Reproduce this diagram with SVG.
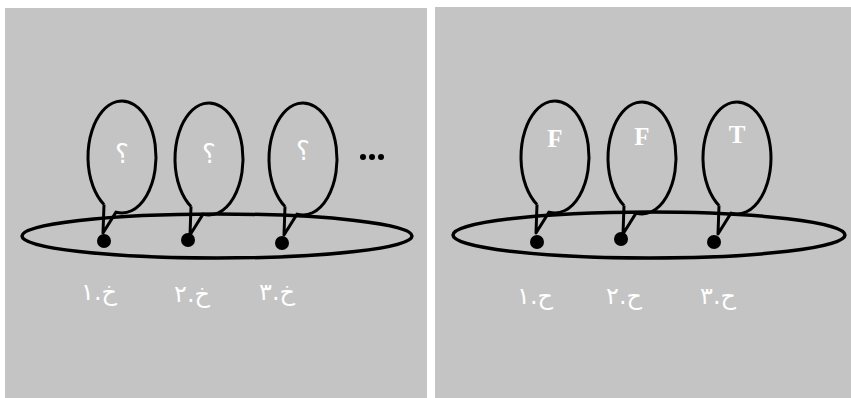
<svg xmlns="http://www.w3.org/2000/svg" width="851" height="398" viewBox="0 0 851 398">
<style>
.panel{fill:#c4c4c4}
.ring{fill:none;stroke:#000;stroke-width:3.5}
.bubble{fill:none;stroke:#000;stroke-width:3;stroke-linejoin:round}
.dot{fill:#000}
.q{font-family:"DejaVu Sans",sans-serif;font-size:26px;fill:#fff;text-anchor:middle}
.tf{font-family:"Liberation Serif",serif;font-weight:bold;font-size:25px;fill:#fff;text-anchor:middle}
.lbl{font-family:"DejaVu Sans",sans-serif;font-size:24px;fill:#fff;text-anchor:middle}
</style>
<defs>
<path id="bub" d="M -18,47.5 A 34 56 0 1 1 -6,55.1 L -19,76 L -18,47.5"/>
</defs>
<rect width="851" height="398" fill="#fff"/>
<rect class="panel" x="5" y="8" width="422" height="390"/>
<rect class="panel" x="435" y="7" width="416" height="391"/>

<g id="connectors">
<ellipse class="ring" cx="217" cy="236" rx="195" ry="22"/>
<ellipse class="ring" cx="649" cy="235" rx="196" ry="23"/>
</g>

<g id="l1">
<use href="#bub" class="bubble" transform="translate(122,157)"/>
<circle class="dot" cx="104" cy="241" r="7"/>
<text class="q" x="122" y="163">؟</text>
<text class="lbl" x="99" y="300" direction="rtl">خ.۱</text>
</g>
<g id="l2">
<use href="#bub" class="bubble" transform="translate(209,159)"/>
<circle class="dot" cx="188" cy="240" r="7"/>
<text class="q" x="209" y="163">؟</text>
<text class="lbl" x="192" y="302" direction="rtl">خ.۲</text>
</g>
<g id="l3">
<use href="#bub" class="bubble" transform="translate(303,159)"/>
<circle class="dot" cx="282" cy="243" r="7"/>
<text class="q" x="303" y="160">؟</text>
<text class="lbl" x="277" y="300" direction="rtl">خ.۳</text>
</g>
<g id="ellipsis">
<circle class="dot" cx="363" cy="157" r="3"/>
<circle class="dot" cx="372" cy="157" r="3"/>
<circle class="dot" cx="381" cy="157" r="3"/>
</g>

<g id="r1">
<use href="#bub" class="bubble" transform="translate(555,157)"/>
<circle class="dot" cx="537" cy="242" r="7"/>
<text class="tf" x="555" y="147">F</text>
<text class="lbl" x="535" y="304" direction="rtl">ح.۱</text>
</g>
<g id="r2">
<use href="#bub" class="bubble" transform="translate(642,158)"/>
<circle class="dot" cx="621" cy="239" r="7"/>
<text class="tf" x="642" y="145">F</text>
<text class="lbl" x="624" y="304" direction="rtl">ح.۲</text>
</g>
<g id="r3">
<use href="#bub" class="bubble" transform="translate(737,158)"/>
<circle class="dot" cx="714" cy="242" r="7"/>
<text class="tf" x="737" y="143">T</text>
<text class="lbl" x="718" y="304" direction="rtl">ح.۳</text>
</g>
</svg>
